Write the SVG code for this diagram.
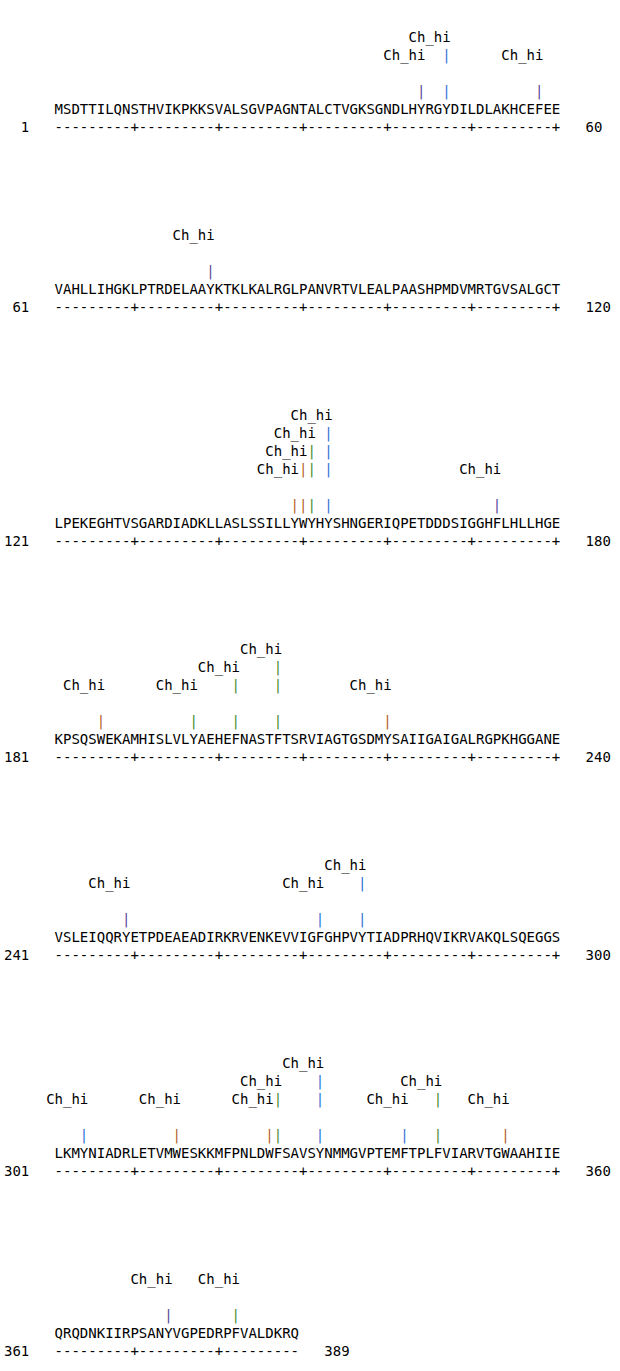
<svg xmlns="http://www.w3.org/2000/svg" width="620" height="1371" viewBox="0 0 620 1371">
<style>
text{font-family:"DejaVu Sans Mono","Liberation Mono",monospace;font-size:14px;fill:#000;white-space:pre}
.n{text-anchor:end}
.p{fill:#5a4498}
.b{fill:#2f72d6}
.o{fill:#b4601f}
.g{fill:#4a8a2e}
</style>
<rect width="620" height="1371" fill="#fff"/>
<g transform="translate(-1,0)">
<g id="block1">
<text x="409.58" y="42">Ch_hi</text>
<text x="384.29" y="60">Ch_hi</text><text class="b" x="443.29" y="60">|</text><text x="502.29" y="60">Ch_hi</text>
<text class="p" x="418.01" y="96">|</text><text class="b" x="443.29" y="96">|</text><text class="p" x="536.01" y="96">|</text>
<text x="55.57" y="114">MSDTTILQNSTHVIKPKKSVALSGVPAGNTALCTVGKSGNDLHYRGYDILDLAKHCEFEE</text>
<text class="n" x="30.29" y="132">1</text><text x="55.57" y="132">---------+---------+---------+---------+---------+---------+</text><text x="586.58" y="132">60</text>
</g>
<g id="block2">
<text x="173.57" y="240">Ch_hi</text>
<text class="p" x="207.29" y="276">|</text>
<text x="55.57" y="294">VAHLLIHGKLPTRDELAAYKTKLKALRGLPANVRTVLEALPAASHPMDVMRTGVSALGCT</text>
<text class="n" x="30.29" y="312">61</text><text x="55.57" y="312">---------+---------+---------+---------+---------+---------+</text><text x="586.58" y="312">120</text>
</g>
<g id="block3">
<text x="291.58" y="420">Ch_hi</text>
<text x="274.72" y="438">Ch_hi</text><text class="b" x="325.29" y="438">|</text>
<text x="266.29" y="456">Ch_hi</text><text class="g" x="308.43" y="456">|</text><text class="b" x="325.29" y="456">|</text>
<text x="257.86" y="474">Ch_hi</text><text class="o" x="300.00" y="474">|</text><text class="g" x="308.43" y="474">|</text><text class="b" x="325.29" y="474">|</text><text x="460.15" y="474">Ch_hi</text>
<text class="o" x="291.58" y="510">|</text><text class="o" x="300.00" y="510">|</text><text class="g" x="308.43" y="510">|</text><text class="b" x="325.29" y="510">|</text><text class="p" x="493.86" y="510">|</text>
<text x="55.57" y="528">LPEKEGHTVSGARDIADKLLASLSSILLYWYHYSHNGERIQPETDDDSIGGHFLHLLHGE</text>
<text class="n" x="30.29" y="546">121</text><text x="55.57" y="546">---------+---------+---------+---------+---------+---------+</text><text x="586.58" y="546">180</text>
</g>
<g id="block4">
<text x="241.00" y="654">Ch_hi</text>
<text x="198.86" y="672">Ch_hi</text><text class="g" x="274.72" y="672">|</text>
<text x="64.00" y="690">Ch_hi</text><text x="156.72" y="690">Ch_hi</text><text class="g" x="232.57" y="690">|</text><text class="g" x="274.72" y="690">|</text><text x="350.58" y="690">Ch_hi</text>
<text class="o" x="97.72" y="726">|</text><text class="g" x="190.43" y="726">|</text><text class="g" x="232.57" y="726">|</text><text class="g" x="274.72" y="726">|</text><text class="o" x="384.29" y="726">|</text>
<text x="55.57" y="744">KPSQSWEKAMHISLVLYAEHEFNASTFTSRVIAGTGSDMYSAIIGAIGALRGPKHGGANE</text>
<text class="n" x="30.29" y="762">181</text><text x="55.57" y="762">---------+---------+---------+---------+---------+---------+</text><text x="586.58" y="762">240</text>
</g>
<g id="block5">
<text x="325.29" y="870">Ch_hi</text>
<text x="89.29" y="888">Ch_hi</text><text x="283.15" y="888">Ch_hi</text><text class="b" x="359.01" y="888">|</text>
<text class="p" x="123.00" y="924">|</text><text class="b" x="316.86" y="924">|</text><text class="b" x="359.01" y="924">|</text>
<text x="55.57" y="942">VSLEIQQRYETPDEAEADIRKRVENKEVVIGFGHPVYTIADPRHQVIKRVAKQLSQEGGS</text>
<text class="n" x="30.29" y="960">241</text><text x="55.57" y="960">---------+---------+---------+---------+---------+---------+</text><text x="586.58" y="960">300</text>
</g>
<g id="block6">
<text x="283.15" y="1068">Ch_hi</text>
<text x="241.00" y="1086">Ch_hi</text><text class="b" x="316.86" y="1086">|</text><text x="401.15" y="1086">Ch_hi</text>
<text x="47.14" y="1104">Ch_hi</text><text x="139.86" y="1104">Ch_hi</text><text x="232.57" y="1104">Ch_hi</text><text class="g" x="274.72" y="1104">|</text><text class="b" x="316.86" y="1104">|</text><text x="367.43" y="1104">Ch_hi</text><text class="g" x="434.86" y="1104">|</text><text x="468.58" y="1104">Ch_hi</text>
<text class="b" x="80.86" y="1140">|</text><text class="o" x="173.57" y="1140">|</text><text class="o" x="266.29" y="1140">|</text><text class="g" x="274.72" y="1140">|</text><text class="b" x="316.86" y="1140">|</text><text class="b" x="401.15" y="1140">|</text><text class="g" x="434.86" y="1140">|</text><text class="o" x="502.29" y="1140">|</text>
<text x="55.57" y="1158">LKMYNIADRLETVMWESKKMFPNLDWFSAVSYNMMGVPTEMFTPLFVIARVTGWAAHIIE</text>
<text class="n" x="30.29" y="1176">301</text><text x="55.57" y="1176">---------+---------+---------+---------+---------+---------+</text><text x="586.58" y="1176">360</text>
</g>
<g id="block7">
<text x="131.43" y="1284">Ch_hi</text><text x="198.86" y="1284">Ch_hi</text>
<text class="p" x="165.15" y="1320">|</text><text class="g" x="232.57" y="1320">|</text>
<text x="55.57" y="1338">QRQDNKIIRPSANYVGPEDRPFVALDKRQ</text>
<text class="n" x="30.29" y="1356">361</text><text x="55.57" y="1356">---------+---------+---------</text><text x="325.29" y="1356">389</text>
</g>
</g>
</svg>
